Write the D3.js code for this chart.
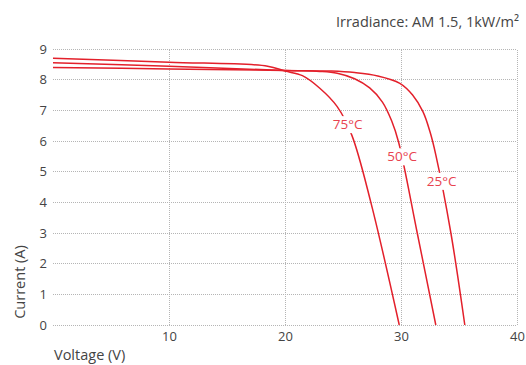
<!DOCTYPE html>
<html><head><meta charset="utf-8">
<script src="https://cdn.jsdelivr.net/npm/d3@7"></script>
<style>
body{margin:0;background:#fff;}
text{font-family:"Open Sans","Noto Sans",sans-serif;}
</style></head>
<body><svg id="c" width="526" height="365"></svg>
<script>
const title = "Irradiance: AM 1.5, 1kW/m²";
const xTicks = [10, 20, 30, 40];
const yTicks = [0,1,2,3,4,5,6,7,8,9];
const xLabel = "Voltage (V)";
const yLabel = "Current (A)";
const seriesNames = ["75°C", "50°C", "25°C"];
// [voltage, current]
const t75V = [0, 10, 18.5, 20, 21.5, 23.0, 24.5, 25.75, 27.4, 29.85];
const t75I = [8.70, 8.57, 8.44, 8.28, 8.13, 7.72, 7.12, 6.20, 4.00, 0];
const t50V = [0, 10, 20, 23.0, 24.5, 26.0, 27.3, 28.4, 29.2, 29.8, 31.4, 33.0];
const t50I = [8.55, 8.44, 8.30, 8.27, 8.21, 8.03, 7.73, 7.27, 6.65, 5.95, 3.0, 0];
const t25V = [0, 10, 20, 24.0, 26.0, 28.0, 29.9, 31.0, 31.9, 32.5, 33.0, 34.3, 35.5];
const t25I = [8.40, 8.35, 8.30, 8.28, 8.23, 8.12, 7.88, 7.50, 6.95, 6.30, 5.55, 3.0, 0];
// label anchor positions (V, I) where the label sits on its curve
const labelV = [25.4, 30.1, 33.5];
const labelI = [6.55, 5.5, 4.7];

const svg = d3.select("#c");
const x = d3.scaleLinear().domain([0, 40]).range([53, 517]);
const y = d3.scaleLinear().domain([0, 9]).range([325, 49]);

const grid = svg.append("g");
grid.selectAll("line.h").data(yTicks).join("line")
  .attr("x1", x(0)).attr("x2", x(40))
  .attr("y1", d => y(d)).attr("y2", d => y(d))
  .attr("stroke", "#b5b5b5").attr("stroke-width", 1).attr("stroke-dasharray", "1,1")
  .attr("shape-rendering", "crispEdges");
grid.selectAll("line.v").data(xTicks).join("line")
  .attr("x1", d => x(d)).attr("x2", d => x(d))
  .attr("y1", y(0)).attr("y2", y(9))
  .attr("stroke", "#b5b5b5").attr("stroke-width", 1).attr("stroke-dasharray", "1,1")
  .attr("shape-rendering", "crispEdges");

const yAxis = svg.append("g").attr("transform", `translate(${x(0)},0)`)
  .call(d3.axisLeft(y).tickValues(yTicks).tickSize(0).tickPadding(6));
yAxis.select(".domain").remove();
yAxis.selectAll("text").attr("font-size", 13).attr("fill", "#444")
  .style("font-family", '"Open Sans","Noto Sans",sans-serif');

const xAxis = svg.append("g").attr("transform", `translate(0,${y(0)})`)
  .call(d3.axisBottom(x).tickValues(xTicks).tickSize(0).tickPadding(7));
xAxis.select(".domain").remove();
xAxis.selectAll("text").attr("font-size", 13).attr("fill", "#444")
  .style("font-family", '"Open Sans","Noto Sans",sans-serif');

const series = [d3.zip(t75V, t75I), d3.zip(t50V, t50I), d3.zip(t25V, t25I)];
const line = d3.line().x(d => x(d[0])).y(d => y(d[1])).curve(d3.curveCatmullRom.alpha(0.5));
svg.append("g").selectAll("path").data(series).join("path")
  .attr("d", line).attr("fill", "none").attr("stroke", "#e3202b").attr("stroke-width", 1.5);

const lab = svg.append("g").selectAll("g").data(seriesNames).join("g")
  .attr("transform", (d, i) => `translate(${x(labelV[i])},${y(labelI[i])})`);
lab.append("rect").attr("x", -19).attr("y", -8).attr("width", 38).attr("height", 17).attr("fill", "#fff");
lab.append("text").text(d => d).attr("text-anchor", "middle").attr("dy", "0.35em")
  .attr("font-size", 13.5).attr("fill", "#e8434f");

svg.append("text").text(title).attr("x", 519).attr("y", 27).attr("text-anchor", "end")
  .attr("font-size", 14.5).attr("fill", "#444");
svg.append("text").text(xLabel).attr("x", 54).attr("y", 360)
  .attr("font-size", 14.5).attr("fill", "#444");
svg.append("text").text(yLabel).attr("transform", "translate(25,282) rotate(-90)")
  .attr("text-anchor", "middle").attr("font-size", 14.5).attr("fill", "#444");
</script></body></html>
